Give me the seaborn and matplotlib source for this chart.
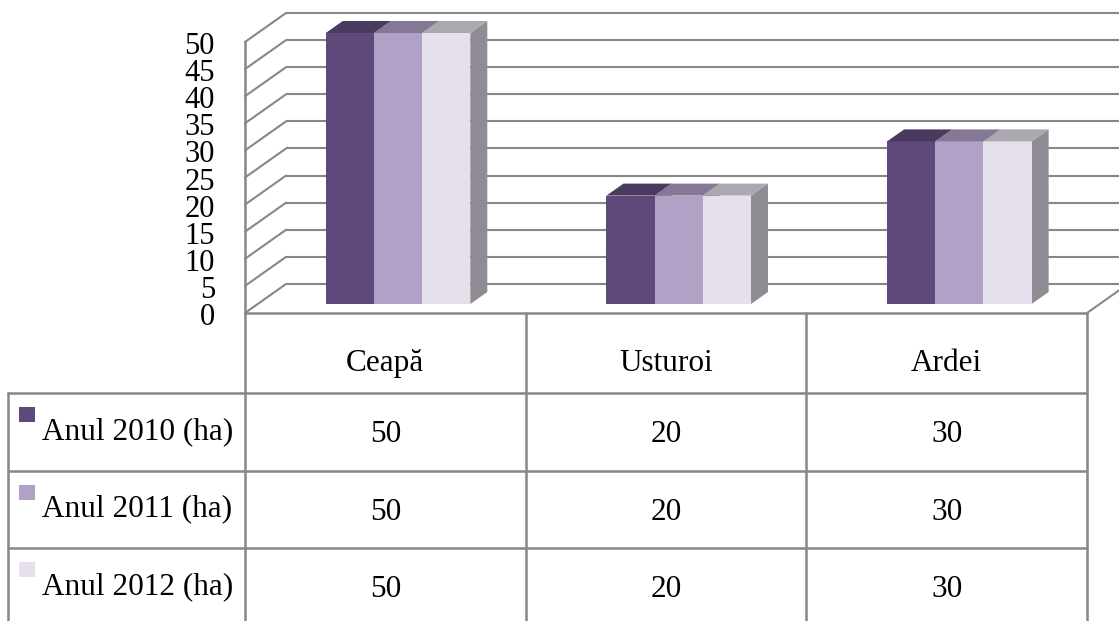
import numpy as np
import pandas as pd
import matplotlib
matplotlib.use('Agg')
import matplotlib.pyplot as plt
import seaborn as sns
from matplotlib.transforms import Affine2D, IdentityTransform
from matplotlib.patches import Polygon, Rectangle

# ---------------- data ----------------
categories = ['Ceapă', 'Usturoi', 'Ardei']
series_names = ['Anul 2010 (ha)', 'Anul 2011 (ha)', 'Anul 2012 (ha)']
anul_2010 = [50, 20, 30]
anul_2011 = [50, 20, 30]
anul_2012 = [50, 20, 30]
y_ticks = [0, 5, 10, 15, 20, 25, 30, 35, 40, 45, 50]

# ---------------- style ----------------
front_colors = ['#5F497A', '#B2A1C7', '#E5E0EC']
top_colors = ['#4B3A60', '#857897', '#ABA8AF']
side_color = '#8F8C93'
line_color = '#878787'

W, H = 1119, 621
sns.set_theme(style='white')
plt.rcParams['font.family'] = ['Liberation Serif', 'DejaVu Serif']

fig = plt.figure(figsize=(W / 100, H / 100), dpi=100)
fig.patch.set_facecolor('white')

# bar plane axes geometry (pixels, top-left origin)
bl, bt, bw, bh = 257.7, 33, 842, 271
ax = fig.add_axes([bl / W, 1 - (bt + bh) / H, bw / W, bh / H])

df = pd.DataFrame({
    'Cultura': categories * 3,
    'An': np.repeat(series_names, len(categories)),
    'Suprafata': anul_2010 + anul_2011 + anul_2012,
})
sns.barplot(data=df, x='Cultura', y='Suprafata', hue='An', order=categories,
            hue_order=series_names, palette=front_colors, saturation=1,
            width=0.515, gap=0, ax=ax, legend=False, errorbar=None,
            linewidth=0, zorder=3)
ax.set_xlim(-0.5, 2.5)
ax.set_ylim(0, 50)
ax.axis('off')

FRONT = (-12.7, -9.0)   # floor/wall front plane offset from bar plane (px)
BACK = (28.3, 20.0)     # back wall offset
DEPTH = (17.0, 12.0)    # bar depth

def plane(off):
    return ax.transData + Affine2D().translate(*off)

def disp(x, y, off=(0, 0)):
    p = ax.transData.transform((x, y))
    return p[0] + off[0], p[1] + off[1]

ID = IdentityTransform()
lw_grid = 1.5

# back wall gridlines
for v in y_ticks:
    ax.plot([-0.5, 2.7], [v, v], transform=plane(BACK), color=line_color,
            lw=lw_grid, clip_on=False, zorder=1, solid_capstyle='butt')
    x0, y0 = disp(-0.5, v, FRONT)
    x1, y1 = disp(-0.5, v, BACK)
    ax.plot([x0, x1], [y0, y1], transform=ID, color=line_color, lw=lw_grid,
            clip_on=False, zorder=1)

# floor front edge and right edge
fx0, fy0 = disp(-0.5, 0, FRONT)
fx1, fy1 = disp(2.5, 0, FRONT)
bx1, by1 = disp(2.5, 0, BACK)
ax.plot([fx0, fx1], [fy0, fy1], transform=ID, color=line_color, lw=1.8, clip_on=False, zorder=1)
ax.plot([fx1, bx1], [fy1, by1], transform=ID, color=line_color, lw=lw_grid, clip_on=False, zorder=1)

# front-left vertical (wall edge + table line)
tx, ty = disp(-0.5, 50, FRONT)
ax.plot([tx, tx], [ty, 0], transform=ID, color=line_color, lw=1.8, clip_on=False, zorder=1)

# 3D faces of bars
def nearest_idx(fc):
    rgb = np.array(fc[:3])
    cands = [np.array(matplotlib.colors.to_rgb(c)) for c in front_colors]
    return int(np.argmin([np.sum((rgb - c) ** 2) for c in cands]))

for p in list(ax.patches):
    k = nearest_idx(p.get_facecolor())
    x0 = p.get_x(); w = p.get_width(); h = p.get_height()
    A = disp(x0, h); B = disp(x0 + w, h); B0 = disp(x0 + w, 0)
    top = [A, B, (B[0] + DEPTH[0], B[1] + DEPTH[1]), (A[0] + DEPTH[0], A[1] + DEPTH[1])]
    side = [B0, B, (B[0] + DEPTH[0], B[1] + DEPTH[1]), (B0[0] + DEPTH[0], B0[1] + DEPTH[1])]
    ax.add_patch(Polygon(side, closed=True, transform=ID, facecolor=side_color,
                         edgecolor='none', zorder=2, clip_on=False))
    ax.add_patch(Polygon(top, closed=True, transform=ID, facecolor=top_colors[k],
                         edgecolor='none', zorder=4, clip_on=False))

# y tick labels (front plane)
lab_tr = ax.get_yaxis_transform() + Affine2D().translate(-42.7, -21)
for v in y_ticks:
    ax.text(0, v, str(v), transform=lab_tr, ha='right', va='baseline',
            fontsize=22, color='black')

# ---------------- data table ----------------
def ytop(y):
    return H - y

col_edges = [disp(c, 0, FRONT)[0] for c in (-0.5, 0.5, 1.5, 2.5)]
col_centers = [disp(i, 0, FRONT)[0] for i in range(len(categories))]
left_x = 8
row_tops = [393, 470.5, 548]
lw_tab = 1.8

for c in col_edges[1:]:
    fig.add_artist(plt.Line2D([c, c], [ytop(313), 0], transform=ID,
                              color=line_color, lw=lw_tab))
fig.add_artist(plt.Line2D([left_x, left_x], [ytop(393), 0], transform=ID,
                          color=line_color, lw=lw_tab))
for rt in row_tops:
    fig.add_artist(plt.Line2D([left_x, col_edges[-1]], [ytop(rt), ytop(rt)],
                              transform=ID, color=line_color, lw=lw_tab))

tab_fs = 22.5
for i, cat in enumerate(categories):
    fig.text(col_centers[i], ytop(371), cat, transform=ID, ha='center',
             va='baseline', fontsize=tab_fs, color='black')

series_vals = [anul_2010, anul_2011, anul_2012]
for r, (name, vals) in enumerate(zip(series_names, series_vals)):
    rt = row_tops[r]
    fig.add_artist(Rectangle((19, ytop(rt + 29)), 16, 15, transform=ID,
                             facecolor=front_colors[r], edgecolor='none'))
    fig.text(42, ytop(rt + 46), name, transform=ID, ha='left', va='baseline',
             fontsize=tab_fs, color='black')
    for i, v in enumerate(vals):
        fig.text(col_centers[i], ytop(rt + 49), str(v), transform=ID,
                 ha='center', va='baseline', fontsize=tab_fs, color='black')

fig.savefig('out.png', dpi=100, facecolor='white')
